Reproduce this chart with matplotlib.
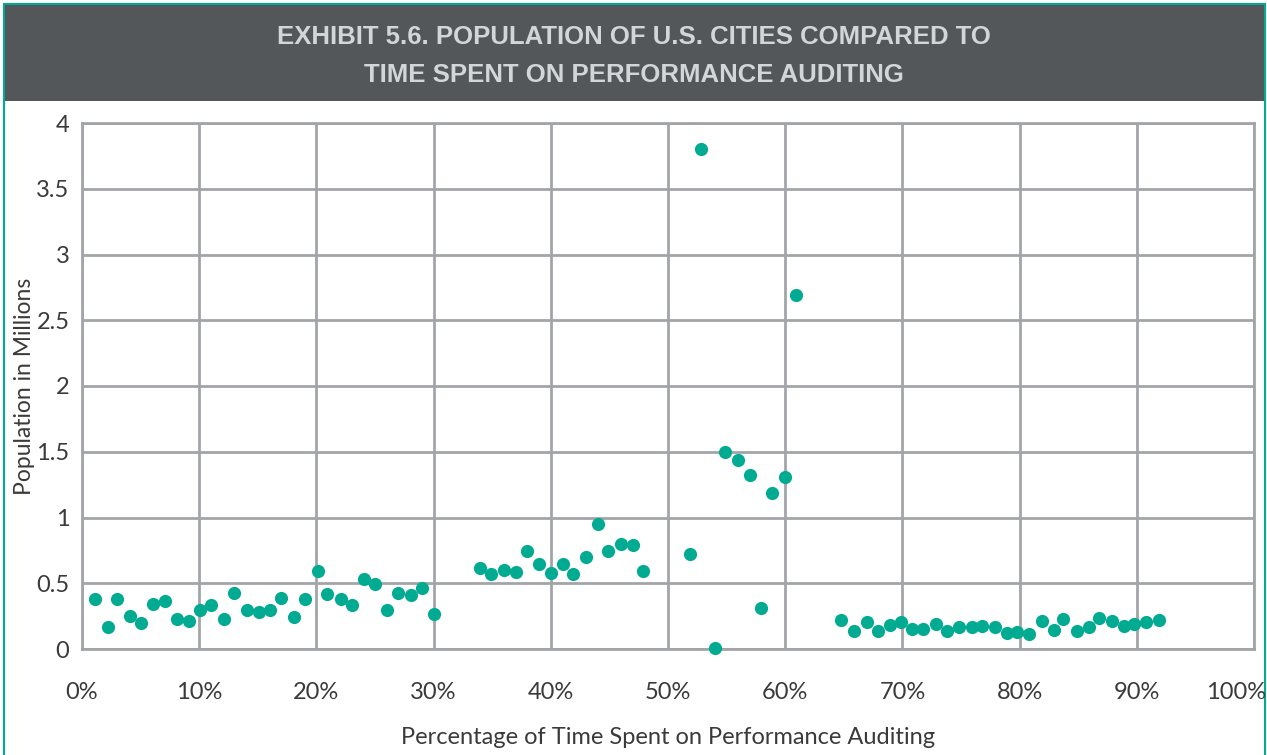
import matplotlib.pyplot as plt
from matplotlib.patches import Rectangle
from matplotlib.transforms import ScaledTranslation

# percentage of time spent on performance auditing
pct = [1.1, 2.2, 3.0, 4.1, 5.0, 6.1, 7.1, 8.1, 9.1, 10.1,
       11.0, 12.1, 13.0, 14.1, 15.1, 16.0, 17.0, 18.1, 19.0, 20.1,
       20.9, 22.1, 23.0, 24.1, 25.0, 26.0, 27.0, 28.1, 29.0, 30.0,
       34.0, 34.9, 36.0, 37.0, 38.0, 39.0, 40.0, 41.0, 41.9, 43.0,
       44.0, 44.9, 46.0, 47.0, 47.9, 51.9, 52.8, 54.0, 54.9, 56.0,
       57.0, 57.9, 58.9, 60.0, 60.9,
       64.8, 65.9, 67.0, 67.9, 68.9, 69.9, 70.8, 71.8, 72.9, 73.8,
       74.8, 75.9, 76.8, 77.9, 78.9, 79.8, 80.8, 81.9, 82.9, 83.7,
       84.9, 85.9, 86.8, 87.9, 88.9, 89.8, 90.8, 91.9]
# population in millions
pop = [0.378, 0.17, 0.378, 0.253, 0.198, 0.342, 0.363, 0.228, 0.21, 0.297,
       0.332, 0.228, 0.428, 0.297, 0.281, 0.297, 0.388, 0.243, 0.378, 0.591,
       0.418, 0.383, 0.332, 0.53, 0.497, 0.294, 0.424, 0.408, 0.461, 0.264,
       0.616, 0.57, 0.601, 0.588, 0.748, 0.649, 0.576, 0.644, 0.57, 0.697,
       0.948, 0.748, 0.801, 0.788, 0.595, 0.722, 3.80, 0.005, 1.496, 1.44,
       1.32, 0.31, 1.19, 1.308, 2.694,
       0.223, 0.137, 0.203, 0.137, 0.185, 0.203, 0.15, 0.15, 0.192, 0.137,
       0.165, 0.17, 0.175, 0.165, 0.124, 0.129, 0.112, 0.215, 0.147, 0.23,
       0.137, 0.17, 0.238, 0.215, 0.175, 0.192, 0.203, 0.223]

xticks = list(range(0, 101, 10))
yticks = [0, 0.5, 1, 1.5, 2, 2.5, 3, 3.5, 4]
ylabels = ['0', '0.5', '1', '1.5', '2', '2.5', '3', '3.5', '4']

title = 'EXHIBIT 5.6. POPULATION OF U.S. CITIES COMPARED TO\nTIME SPENT ON PERFORMANCE AUDITING'

teal = '#00ab91'
grid = '#a2a5a8'
text = '#3a3a3a'

plt.rcParams['font.family'] = ['Lato', 'DejaVu Sans']

fig = plt.figure(figsize=(12.67, 7.55), dpi=100)

# frame and title band
W, H = 1267, 755
fig.patches.append(Rectangle((4 / W, -0.01), 1261 / W, (751 / H) + 0.01, transform=fig.transFigure,
                             facecolor='white', edgecolor=teal, linewidth=1.5, zorder=0))
fig.patches.append(Rectangle((5 / W, 1 - 101 / H), 1259 / W, 96 / H, transform=fig.transFigure,
                             facecolor='#54575a', edgecolor='none', zorder=1))
fig.text(0.5, 1 - 56 / H, title, ha='center', va='center', color='#d3d6d9',
         fontsize=18.5, fontweight='bold', family='Liberation Sans', linespacing=1.75, zorder=3)

ax = fig.add_axes([82 / W, 1 - 649 / H, 1172 / W, 526 / H])
ax.set_zorder(2)
ax.set_facecolor('white')
ax.scatter(pct, pop, s=90, color=teal, zorder=3, clip_on=False, linewidths=0)

ax.set_xlim(0, 100)
ax.set_ylim(0, 4)
ax.set_xticks(xticks)
ax.set_xticklabels([f'{t}%' for t in xticks])
ax.set_yticks(yticks)
ax.set_yticklabels(ylabels)
ax.grid(True, color=grid, linewidth=2)
ax.set_axisbelow(True)
for s in ax.spines.values():
    s.set_color(grid)
    s.set_linewidth(2)
ax.tick_params(length=0, labelsize=17, colors=text)
ax.tick_params(axis='x', pad=24)
ax.tick_params(axis='y', pad=9)

# last x label is pulled inside the frame, as in the original
last = ax.get_xticklabels()[-1]
last.set_transform(last.get_transform() + ScaledTranslation(-0.18, 0, fig.dpi_scale_trans))

ax.set_xlabel('Percentage of Time Spent on Performance Auditing', fontsize=17, color=text, va='center')
ax.set_ylabel('Population in Millions', fontsize=16.5, color=text, va='center')
ax.xaxis.set_label_coords(0.5, (649 - 738) / 526)
ax.yaxis.set_label_coords((25 - 82) / 1172, 0.5)

fig.savefig('out.png', dpi=100)
